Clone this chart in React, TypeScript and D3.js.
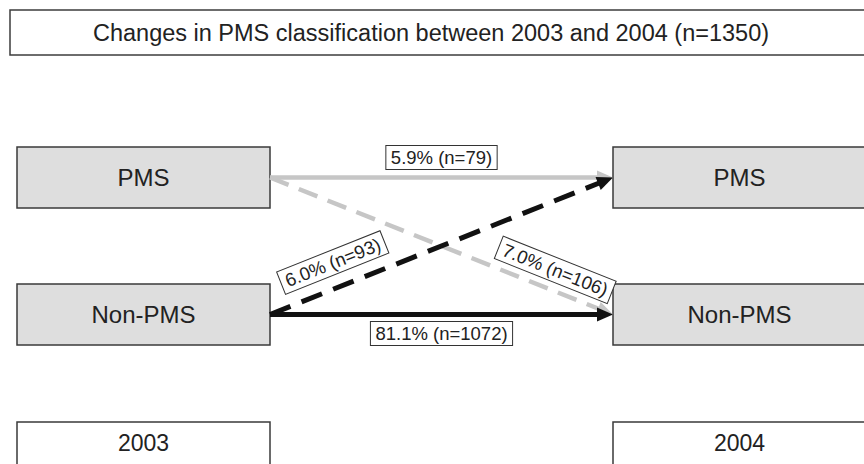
import React from "react";
import * as d3 from "d3";

// chart data
const years = ["2003", "2004"];
const states = ["PMS", "Non-PMS"];
const flowFrom = ["PMS", "PMS", "Non-PMS", "Non-PMS"];
const flowTo = ["PMS", "Non-PMS", "PMS", "Non-PMS"];
const flowPct = [5.9, 7.0, 6.0, 81.1];
const flowN = [79, 106, 93, 1072];
const totalN = 1350;

const FONT = "'Liberation Sans', Arial, Helvetica, sans-serif";

// per flow look: colour, dash, where the label sits (t along line, offset normal)
const flowStyle = [
    { color: "#c6c6c6", width: 4.5, dash: null, t: 0.5, off: 20 },
    { color: "#c6c6c6", width: 4.5, dash: "20 11", t: 0.81, off: 20 },
    { color: "#111111", width: 5, dash: "22 12", t: 0.21, off: 25 },
    { color: "#111111", width: 5, dash: null, t: 0.5, off: -19 },
];

function textWidth(txt: string, font: string) {
    const c = document.createElement("canvas").getContext("2d");
    if (!c) return txt.length * 9;
    c.font = font;
    return c.measureText(txt).width;
}

export default function App() {
    const width = 864;
    const height = 464;
    const boxW = 253;
    const boxH = 61;

    const x = d3.scaleOrdinal<string, number>().domain(years).range([17, 613]);
    const y = d3.scaleOrdinal<string, number>().domain(states).range([147, 284]);

    const labelSize = 18.5;
    const labelFont = `${labelSize}px ${FONT}`;

    const flows = flowFrom.map((f, i) => {
        const st = flowStyle[i];
        const x1 = x(years[0]) + boxW;
        const y1 = y(f) + boxH / 2;
        const x2 = x(years[1]);
        const y2 = y(flowTo[i]) + boxH / 2;
        const len = Math.hypot(x2 - x1, y2 - y1);
        const ux = (x2 - x1) / len;
        const uy = (y2 - y1) / len;
        const head = 16;
        const lx = x1 + (x2 - x1) * st.t + uy * st.off;
        const ly = y1 + (y2 - y1) * st.t - ux * st.off;
        const angle = (Math.atan2(uy, ux) * 180) / Math.PI;
        const label = `${flowPct[i].toFixed(1)}% (n=${flowN[i]})`;
        const tw = textWidth(label, labelFont);
        return { i, st, x1, y1, x2, y2, ux, uy, head, lx, ly, angle, label, tw };
    });

    return (
        <svg
            width={width}
            height={height}
            style={{ position: "absolute", left: 0, top: 0, background: "#fff" }}
            fontFamily={FONT}
        >
            {/* title */}
            <rect x={10} y={10} width={870} height={45} fill="#fff" stroke="#3c3c3c" strokeWidth={1.5} />
            <text x={431} y={33} textAnchor="middle" dominantBaseline="central" fontSize={23.5} fill="#222">
                {`Changes in PMS classification between ${years[0]} and ${years[1]} (n=${totalN})`}
            </text>

            {/* state boxes */}
            {years.map(yr =>
                states.map(s => (
                    <g key={yr + s}>
                        <rect x={x(yr)} y={y(s)} width={boxW} height={boxH} fill="#dedede" stroke="#3a3a3a" strokeWidth={1.5} />
                        <text x={x(yr) + boxW / 2} y={y(s) + boxH / 2} textAnchor="middle" dominantBaseline="central" fontSize={24} fill="#222">
                            {s}
                        </text>
                    </g>
                ))
            )}

            {/* year boxes */}
            {years.map(yr => (
                <g key={yr}>
                    <rect x={x(yr)} y={422} width={boxW} height={46} fill="#fff" stroke="#3a3a3a" strokeWidth={1.5} />
                    <text x={x(yr) + boxW / 2} y={443} textAnchor="middle" dominantBaseline="central" fontSize={23} fill="#222">
                        {yr}
                    </text>
                </g>
            ))}

            {/* arrows */}
            {flows.map(d => {
                const ex = d.x2 - d.ux * d.head * 0.8;
                const ey = d.y2 - d.uy * d.head * 0.8;
                const bx = d.x2 - d.ux * d.head;
                const by = d.y2 - d.uy * d.head;
                const hw = 7;
                const pts = [
                    [d.x2, d.y2],
                    [bx - d.uy * hw, by + d.ux * hw],
                    [bx + d.uy * hw, by - d.ux * hw],
                ];
                return (
                    <g key={"a" + d.i}>
                        <line
                            x1={d.x1}
                            y1={d.y1}
                            x2={ex}
                            y2={ey}
                            stroke={d.st.color}
                            strokeWidth={d.st.width}
                            strokeDasharray={d.st.dash ?? undefined}
                        />
                        <polygon points={pts.map(p => p.join(",")).join(" ")} fill={d.st.color} />
                    </g>
                );
            })}

            {/* labels */}
            {flows.map(d => (
                <g key={"l" + d.i} transform={`translate(${d.lx},${d.ly}) rotate(${d.angle})`}>
                    <rect x={-d.tw / 2 - 5} y={-12} width={d.tw + 10} height={24} fill="#fff" stroke="#333" strokeWidth={1} />
                    <text textAnchor="middle" dominantBaseline="central" fontSize={labelSize} fill="#222">
                        {d.label}
                    </text>
                </g>
            ))}
        </svg>
    );
}
